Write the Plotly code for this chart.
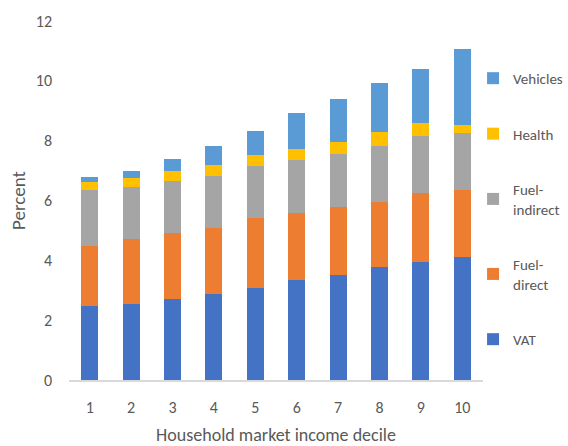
import plotly.graph_objects as go

deciles = ["1", "2", "3", "4", "5", "6", "7", "8", "9", "10"]
vat = [2.47, 2.55, 2.72, 2.87, 3.08, 3.34, 3.51, 3.77, 3.95, 4.12]
fuel_direct = [2.01, 2.15, 2.19, 2.22, 2.33, 2.25, 2.26, 2.19, 2.29, 2.23]
fuel_indirect = [1.87, 1.74, 1.75, 1.73, 1.76, 1.76, 1.79, 1.86, 1.91, 1.90]
health = [0.26, 0.30, 0.32, 0.37, 0.35, 0.36, 0.41, 0.47, 0.43, 0.28]
vehicles = [0.17, 0.26, 0.41, 0.63, 0.80, 1.22, 1.42, 1.65, 1.81, 2.52]

series = [
    ("VAT", vat, "#4472C4"),
    ("Fuel-<br>direct", fuel_direct, "#ED7D31"),
    ("Fuel-<br>indirect", fuel_indirect, "#A5A5A5"),
    ("Health", health, "#FFC000"),
    ("Vehicles", vehicles, "#5B9BD5"),
]

FONT = "Carlito, 'Liberation Sans Narrow', 'Liberation Sans', Arial, sans-serif"
GREY = "#595959"

fig = go.Figure()
n = len(series)
for i, (name, vals, col) in enumerate(series):
    fig.add_trace(go.Bar(
        x=deciles, y=vals, name=name, marker_color=col,
        marker_line_width=0, legendgroup=f"g{i}", legendrank=n - i,
    ))

fig.update_layout(
    barmode="stack",
    bargap=0.59,
    width=568, height=446,
    margin=dict(l=69, r=85, t=21, b=66, autoexpand=False),
    plot_bgcolor="white", paper_bgcolor="white",
    font=dict(family=FONT, size=15, color=GREY),
    showlegend=True,
    legend=dict(
        x=0.976, y=0.886, xanchor="left", yanchor="top",
        traceorder="grouped", tracegroupgap=33,
        bgcolor="rgba(0,0,0,0)",
        font=dict(family=FONT, size=15, color=GREY),
        itemwidth=30,
    ),
    xaxis=dict(
        title=dict(text="Household market income decile", font=dict(size=18, color=GREY), standoff=18),
        showline=True, linecolor="#D9D9D9", linewidth=2,
        ticks="", showgrid=False, automargin=False,
        tickfont=dict(size=16, color=GREY), ticklabelstandoff=12,
    ),
    yaxis=dict(
        title=dict(text="Percent", font=dict(size=19, color=GREY), standoff=5),
        range=[0, 12], dtick=2, showgrid=False, zeroline=False,
        showline=False, ticks="", automargin=False,
        tickfont=dict(size=16, color=GREY), ticklabelstandoff=16,
    ),
)

fig.write_html(
    "out.html",
    config={"displayModeBar": False},
    post_script="document.body.style.margin='0';",
)
